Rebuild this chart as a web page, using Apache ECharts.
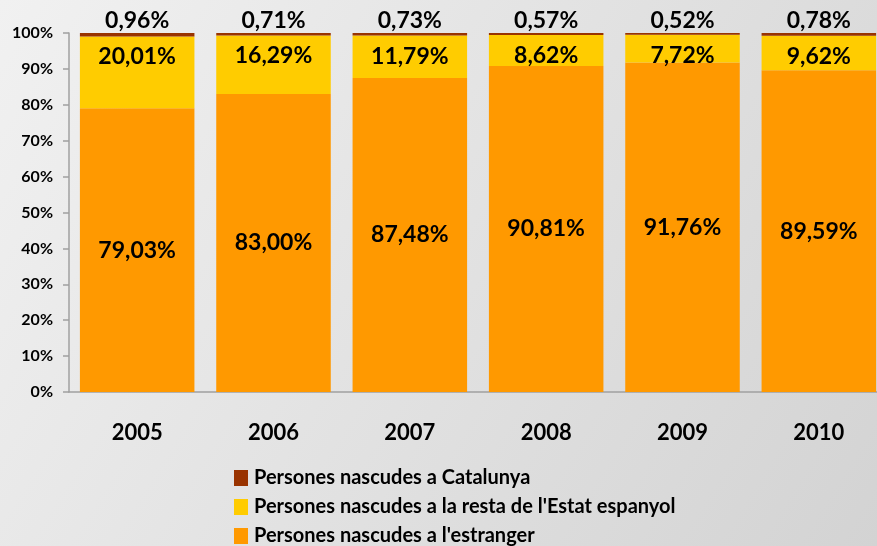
<!DOCTYPE html>
<html>
<head>
<meta charset="utf-8">
<script src="https://cdn.jsdelivr.net/npm/echarts@6/dist/echarts.min.js"></script>
<style>
  html, body { margin: 0; padding: 0; }
  #chart { width: 877px; height: 546px; }
</style>
</head>
<body>
<div id="chart"></div>
<script>
// dades (percentatges)
var years = ['2005', '2006', '2007', '2008', '2009', '2010']
var estranger = [79.03, 83.00, 87.48, 90.81, 91.76, 89.59]
var restaEstat = [20.01, 16.29, 11.79, 8.62, 7.72, 9.62]
var catalunya = [0.96, 0.71, 0.73, 0.57, 0.52, 0.78]
var yTicks = [0, 10, 20, 30, 40, 50, 60, 70, 80, 90, 100]

var names = [
  'Persones nascudes a Catalunya',
  "Persones nascudes a la resta de l'Estat espanyol",
  "Persones nascudes a l'estranger"
]

var font = 'Lato'
function fmt(v) {
  return v.toFixed(2).replace('.', ',') + '%'
}
function segLabel(position, extra) {
  return Object.assign({
    show: true,
    position: position,
    color: '#000',
    fontFamily: font,
    fontWeight: 'bold',
    fontSize: 23,
    formatter: function (p) { return fmt(p.value) }
  }, extra || {})
}

var chart = echarts.init(document.getElementById('chart'))
chart.setOption({
  animation: false,
  backgroundColor: {
    type: 'linear', x: 0, y: 0, x2: 1, y2: 1,
    colorStops: [
      { offset: 0, color: '#f1f1f1' },
      { offset: 1, color: '#d3d3d3' }
    ]
  },
  grid: {
    left: 69, top: 33, width: 818, bottom: 154,
    containLabel: false,
    outerBoundsMode: 'none'
  },
  legend: {
    orient: 'vertical',
    left: 234,
    top: 468,
    height: 100,
    padding: 0,
    itemWidth: 14,
    itemHeight: 16,
    itemGap: 9,
    icon: 'rect',
    data: names,
    textStyle: {
      fontFamily: font,
      fontWeight: 'bold',
      fontSize: 20,
      lineHeight: 20,
      color: '#000',
      padding: [0, 0, 0, 1]
    }
  },
  xAxis: {
    type: 'category',
    data: years,
    axisLine: { lineStyle: { color: '#a0a0a0', width: 1.5 } },
    axisTick: { length: 8, lineStyle: { color: '#a0a0a0', width: 1.5 } },
    axisLabel: {
      margin: 30,
      color: '#000',
      fontFamily: font,
      fontWeight: 'bold',
      fontSize: 22
    }
  },
  yAxis: {
    type: 'value',
    min: yTicks[0],
    max: yTicks[yTicks.length - 1],
    interval: 10,
    splitLine: { show: false },
    axisLine: { show: true, lineStyle: { color: '#a0a0a0', width: 1.5 } },
    axisTick: { show: true, length: 6, lineStyle: { color: '#a0a0a0', width: 1.5 } },
    axisLabel: {
      margin: 16,
      color: '#000',
      fontFamily: font,
      fontWeight: 'bold',
      fontSize: 16,
      formatter: '{value}%'
    }
  },
  series: [
    {
      name: names[2],
      type: 'bar',
      stack: 'total',
      barCategoryGap: '16%',
      itemStyle: { color: '#FF9900' },
      label: segLabel('inside'),
      data: estranger
    },
    {
      name: names[1],
      type: 'bar',
      stack: 'total',
      itemStyle: { color: '#FFCC00' },
      label: segLabel('insideTop', { distance: 9 }),
      data: restaEstat
    },
    {
      name: names[0],
      type: 'bar',
      stack: 'total',
      itemStyle: { color: '#993300' },
      label: segLabel('top', { distance: 1 }),
      data: catalunya
    }
  ]
})
</script>
</body>
</html>
